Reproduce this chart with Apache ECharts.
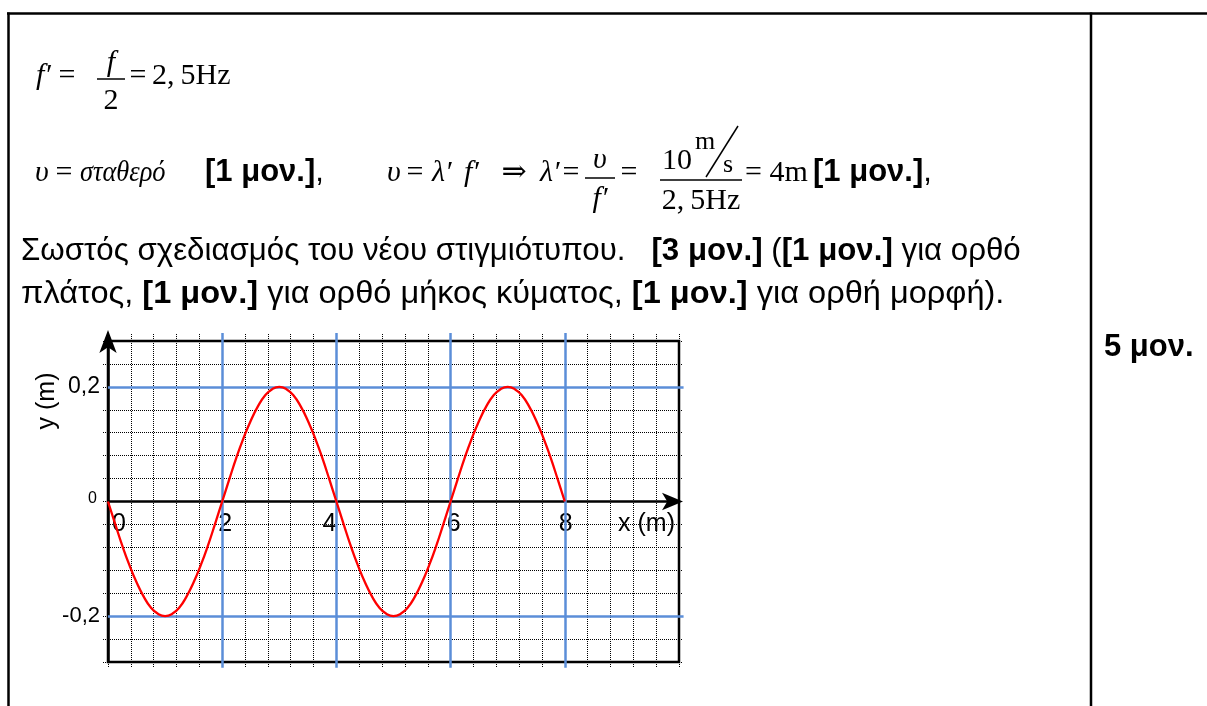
<!DOCTYPE html>
<html>
<head>
<meta charset="utf-8">
<script src="https://cdn.jsdelivr.net/npm/echarts@6/dist/echarts.min.js"></script>
<style>
  html, body { margin: 0; padding: 0; background: #fff; }
  #main { width: 1207px; height: 706px; }
</style>
</head>
<body>
<div id="main"></div>
<script>
// Snapshot of the wave: displacement y (m) along x (m)
const xValues = [0, 0.125, 0.25, 0.375, 0.5, 0.625, 0.75, 0.875, 1, 1.125, 1.25, 1.375, 1.5, 1.625, 1.75, 1.875,
                 2, 2.125, 2.25, 2.375, 2.5, 2.625, 2.75, 2.875, 3, 3.125, 3.25, 3.375, 3.5, 3.625, 3.75, 3.875,
                 4, 4.125, 4.25, 4.375, 4.5, 4.625, 4.75, 4.875, 5, 5.125, 5.25, 5.375, 5.5, 5.625, 5.75, 5.875,
                 6, 6.125, 6.25, 6.375, 6.5, 6.625, 6.75, 6.875, 7, 7.125, 7.25, 7.375, 7.5, 7.625, 7.75, 7.875, 8];
const yValues = [0, -0.039, -0.077, -0.111, -0.141, -0.166, -0.185, -0.196, -0.2, -0.196, -0.185, -0.166, -0.141, -0.111, -0.077, -0.039,
                 0, 0.039, 0.077, 0.111, 0.141, 0.166, 0.185, 0.196, 0.2, 0.196, 0.185, 0.166, 0.141, 0.111, 0.077, 0.039,
                 0, -0.039, -0.077, -0.111, -0.141, -0.166, -0.185, -0.196, -0.2, -0.196, -0.185, -0.166, -0.141, -0.111, -0.077, -0.039,
                 0, 0.039, 0.077, 0.111, 0.141, 0.166, 0.185, 0.196, 0.2, 0.196, 0.185, 0.166, 0.141, 0.111, 0.077, 0.039, 0];

// Axis labels
const xTickValues = [0, 2, 4, 6, 8];
const xTickLabels = ['0', '2', '4', '6', '8'];
const yTickValues = [-0.2, 0, 0.2];
const yTickLabels = ['-0,2', '0', '0,2'];

// Heavier (blue) grid lines
const majorX = [2, 4, 6, 8];
const majorY = [-0.2, 0.2];

const SANS = '"Liberation Sans", Arial, sans-serif';
const SERIF = '"Liberation Serif", "DejaVu Serif", "Times New Roman", serif';
const BLUE = '#5b8ed8';
const M = 30;   // formula size
const T = 31;   // body text size
const GRID_H = 321;

function findIndex(list, v) {
  for (let i = 0; i < list.length; i++) {
    if (Math.abs(list[i] - v) < 1e-6) return i;
  }
  return -1;
}

// text placed by its left (or centre) x and its baseline
function word(x, base, text, size, family, extra, scaleX) {
  const el = {
    type: 'text', x: x, y: base - 0.34 * size, silent: true,
    style: Object.assign({
      text: text, fontSize: size, fontFamily: family, fill: '#000',
      align: 'left', verticalAlign: 'middle'
    }, extra || {})
  };
  if (scaleX) el.scaleX = scaleX;
  return el;
}
function seg(x1, y1, x2, y2, w) {
  return { type: 'line', silent: true, shape: { x1: x1, y1: y1, x2: x2, y2: y2 },
           style: { stroke: '#000', lineWidth: w } };
}
const it = { fontStyle: 'italic' };
const itc = { fontStyle: 'italic', align: 'center' };
const ctr = { align: 'center' };
const bold = { fontWeight: 'bold' };
const richB = { b: { fontWeight: 'bold', fontSize: T, fontFamily: SANS } };

const graphics = [
  // table rules
  seg(7, 13.5, 1207, 13.5, 2.5),
  seg(8.5, 12.5, 8.5, 706, 2.5),
  seg(1091, 12.5, 1091, 706, 2.5),

  // f' = f/2 = 2,5Hz
  word(36, 86, 'f′', M, SERIF, it),
  word(67, 86, '=', M, SERIF, ctr),
  word(111, 73, 'f', M, SERIF, itc),
  seg(97, 79, 125, 79, 1.5),
  word(111, 111, '2', M, SERIF, ctr),
  word(138, 86, '=', M, SERIF, ctr),
  word(152, 86, '2,\u20095Hz', M, SERIF),

  // υ = σταθερό  [1 μον.],
  word(35, 183, 'υ', M, SERIF, it),
  word(64, 183, '=', M, SERIF, ctr),
  word(80, 183, 'σταθερό', M, SERIF, it, 0.88),
  word(205, 183, '{b|[1 μον.]},', T, SANS, { rich: richB }),

  // υ = λ'f' ⇒ λ' = υ/f' = (10 m/s)/(2,5Hz) = 4m  [1 μον.],
  word(387, 183, 'υ', M, SERIF, it),
  word(415, 183, '=', M, SERIF, ctr),
  word(432, 183, 'λ′', M, SERIF, it),
  word(464, 183, 'f′', M, SERIF, it),
  word(514, 183, '⇒', M, SERIF, ctr),
  word(540, 183, 'λ′', M, SERIF, it),
  word(571, 183, '=', M, SERIF, ctr),
  word(600, 170, 'υ', M, SERIF, itc),
  seg(585, 178, 615, 178, 1.5),
  word(600, 209, 'f′', M, SERIF, itc),
  word(629, 183, '=', M, SERIF, ctr),
  word(662, 171, '10', M, SERIF),
  word(695, 151, 'm', 26, SERIF),
  seg(706, 177, 738, 126, 1.5),
  word(723, 174, 's', 26, SERIF),
  seg(660, 180, 742, 180, 1.5),
  word(701, 211, '2,\u20095Hz', M, SERIF, ctr),
  word(745, 183, '= 4m', M, SERIF),
  word(813, 183, '{b|[1 μον.]},', T, SANS, { rich: richB }),

  // marking notes
  word(21, 262, 'Σωστός σχεδιασμός του νέου στιγμιότυπου.   {b|[3 μον.]} ({b|[1 μον.]} για ορθό',
       T, SANS, { rich: richB }, 1.008),
  word(21, 305, 'πλάτος, {b|[1 μον.]} για ορθό μήκος κύματος, {b|[1 μον.]} για ορθή μορφή).',
       T, SANS, { rich: richB }, 1.05),
  word(1104, 358, '5 μον.', T, SANS, bold),

  // y-axis title
  {
    type: 'text', x: 47, y: 401, rotation: Math.PI / 2, silent: true,
    style: { text: 'y (m)', fontSize: 25, fontFamily: SANS, fill: '#000', align: 'center', verticalAlign: 'middle' }
  }
];

const dotted = { color: '#000', width: 1, type: [1, 1] };
const xRich = {
  t0: { fontSize: 25, fontFamily: SANS, color: '#000', padding: [0, 0, 0, 22] },
  t1: { fontSize: 25, fontFamily: SANS, color: '#000', padding: [0, 0, 0, 6] },
  t2: { fontSize: 25, fontFamily: SANS, color: '#000', padding: [0, 14, 0, 0] },
  t3: { fontSize: 25, fontFamily: SANS, color: '#000', padding: [0, 0, 0, 6] },
  t4: { fontSize: 25, fontFamily: SANS, color: '#000', padding: [0, 0, 0, 2] }
};
const yRich = {
  t0: { fontSize: 22, fontFamily: SANS, color: '#000' },
  t1: { fontSize: 16, fontFamily: SANS, color: '#000', padding: [0, 3, 5, 0] },
  t2: { fontSize: 23, fontFamily: SANS, color: '#000' }
};

function tickAxis(position, len) {
  return {
    type: 'value', min: 0, max: 10, interval: 0.4, position: position,
    axisLine: { show: false, onZero: false },
    axisTick: { show: true, length: len, lineStyle: dotted },
    axisLabel: { show: false }, splitLine: { show: false }
  };
}

const option = {
  animation: false,
  backgroundColor: '#fff',
  grid: {
    left: 108, top: 341, width: 571, height: GRID_H,
    show: true, borderColor: '#000', borderWidth: 2.5, backgroundColor: 'transparent',
    outerBoundsMode: 'none'
  },
  xAxis: [
    {
      // x axis drawn through y = 0 (the middle of the symmetric y range)
      type: 'value', min: 0, max: 10, interval: 0.4, position: 'bottom', offset: -GRID_H / 2,
      name: 'x (m)', nameLocation: 'end', nameGap: -4,
      nameTextStyle: { fontSize: 25, fontFamily: SANS, color: '#000', align: 'right', verticalAlign: 'top', padding: [10, 0, 0, 0] },
      axisLine: {
        onZero: false, lineStyle: { color: '#000', width: 2.5 },
        symbol: ['none', 'arrow'], symbolSize: [13, 21], symbolOffset: [0, 4]
      },
      axisTick: { show: false },
      axisLabel: {
        margin: 10, color: '#000', fontSize: 25, fontFamily: SANS,
        formatter: function (v) {
          const i = findIndex(xTickValues, v);
          return i < 0 ? '' : '{t' + i + '|' + xTickLabels[i] + '}';
        },
        rich: xRich
      },
      splitLine: { show: true, lineStyle: dotted }
    },
    tickAxis('top', 8),
    tickAxis('bottom', 6)
  ],
  yAxis: [
    {
      type: 'value', min: -0.28, max: 0.28, interval: 0.04, position: 'left',
      axisLine: {
        show: true, onZero: false, lineStyle: { color: '#000', width: 2.5 },
        symbol: ['none', 'arrow'], symbolSize: [13, 23], symbolOffset: [0, 11]
      },
      axisTick: { show: true, length: 6, lineStyle: dotted },
      axisLabel: {
        margin: 8, color: '#000', fontSize: 22, fontFamily: SANS,
        formatter: function (v) {
          const i = findIndex(yTickValues, v);
          return i < 0 ? '' : '{t' + i + '|' + yTickLabels[i] + '}';
        },
        rich: yRich
      },
      splitLine: { show: true, lineStyle: dotted }
    },
    {
      type: 'value', min: -0.28, max: 0.28, interval: 0.04, position: 'right',
      axisLine: { show: false, onZero: false },
      axisTick: { show: true, length: 4, lineStyle: dotted },
      axisLabel: { show: false }, splitLine: { show: false }
    }
  ],
  series: [
    {
      type: 'lines', coordinateSystem: 'cartesian2d', xAxisIndex: 0, yAxisIndex: 0,
      silent: true, z: 1, clip: false,
      lineStyle: { color: BLUE, width: 2.5, opacity: 1 },
      data: majorX.map(function (v) { return { coords: [[v, -0.29], [v, 0.294]] }; })
        .concat(majorY.map(function (v) { return { coords: [[0, v], [10.08, v]] }; }))
    },
    {
      type: 'line', xAxisIndex: 0, yAxisIndex: 0, z: 3, clip: false,
      smooth: true, showSymbol: false, symbol: 'none', silent: true,
      lineStyle: { color: '#ff0000', width: 2.3 },
      data: xValues.map(function (x, i) { return [x, yValues[i]]; })
    }
  ],
  graphic: graphics
};

const chart = echarts.init(document.getElementById('main'), null, { renderer: 'canvas' });
chart.setOption(option);
</script>
</body>
</html>
